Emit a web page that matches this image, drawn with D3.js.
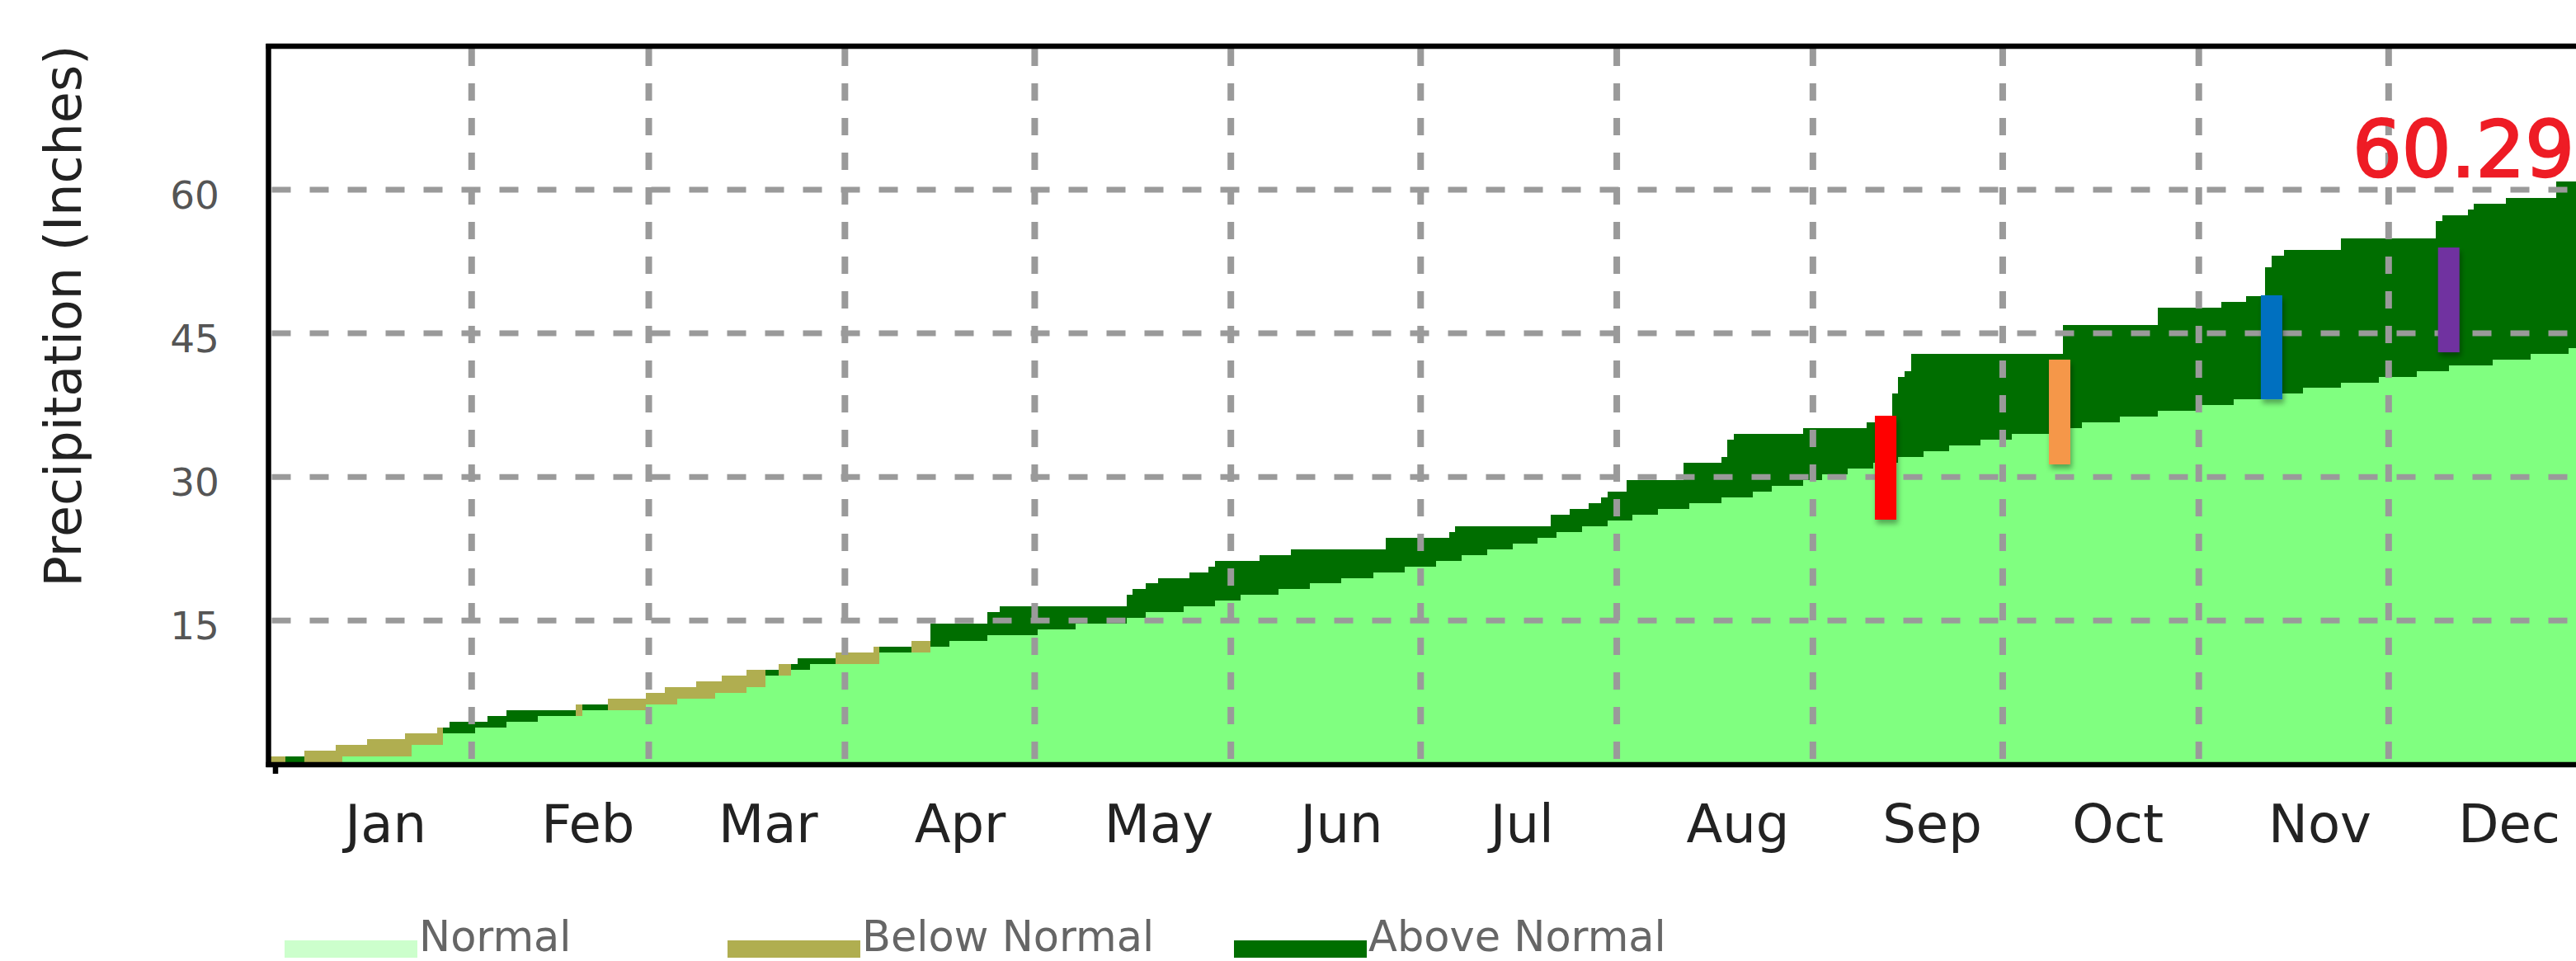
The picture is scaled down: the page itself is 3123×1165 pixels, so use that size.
<!DOCTYPE html>
<html>
<head>
<meta charset="utf-8">
<script src="https://cdn.jsdelivr.net/npm/d3@7/dist/d3.min.js"></script>
<style>
  html, body { margin: 0; padding: 0; background: #fff; }
  svg { display: block; }
  text { font-family: "DejaVu Sans", sans-serif; }
</style>
</head>
<body>
<svg id="chart"></svg>
<script>
"use strict";

/* ── Data ──────────────────────────────────────────────── */
const MONTHS      = ["Jan", "Feb", "Mar", "Apr", "May", "Jun", "Jul", "Aug", "Sep", "Oct", "Nov", "Dec"];
const MONTH_START = [0, 31, 59, 90, 120, 151, 181, 212, 243, 273, 304, 334];
const Y_TICKS     = [15, 30, 45, 60];

// day of year where each step starts, with cumulative inches at that step
const STEP_DAY = [
  1, 2, 5, 10, 11, 15, 21, 22, 26, 27, 28, 32, 34, 37, 42, 48, 49, 53, 59,
  62, 64, 67, 70, 71, 75, 78, 80, 82, 83, 85, 89, 95, 96, 101, 104, 107, 113, 115,
  121, 127, 135, 136, 138, 140, 144, 145, 148, 149, 153, 156, 159, 161, 164, 169, 174, 176, 179,
  184, 186, 187, 188, 192, 196, 200, 202, 203, 205, 207, 208, 210, 211, 214, 215, 219, 223, 224,
  229, 230, 231, 234, 237, 242, 245, 249, 252, 253, 256, 257, 258, 259, 261, 265, 270, 275,
  283, 284, 286, 292, 298, 304, 308, 310, 312, 315, 316, 317, 318, 321, 327, 333, 339,
  342, 343, 344, 347, 348, 351, 353, 357, 361, 363
];
const OBSERVED = [
  0, 0.82, 0, 0, 0.82, 0.82, 0.82, 2.02, 2.02, 3.83, 4.44, 4.44, 5.04, 5.64, 5.64, 5.04, 6.24, 5.64, 6.24,
  6.24, 6.85, 6.85, 7.45, 7.45, 8.05, 9.86, 9.26, 10.47, 11.07, 11.07, 10.47, 10.47, 12.27, 11.67, 14.69, 14.69, 15.89, 16.49,
  16.49, 16.49, 17.70, 18.30, 18.91, 19.42, 19.42, 20.03, 20.63, 21.23, 21.23, 21.83, 21.83, 22.44, 22.44, 22.44, 22.44, 23.64, 23.64,
  23.64, 24.25, 24.85, 24.85, 24.85, 24.85, 24.85, 26.06, 26.06, 26.66, 26.66, 27.26, 27.86, 28.47, 29.67, 29.67, 29.67, 31.48, 31.48,
  32.09, 33.89, 34.49, 34.49, 34.49, 35.10, 35.10, 35.10, 35.70, 35.70, 38.72, 40.44, 41.04, 42.85, 42.85, 42.85, 42.85, 42.85,
  45.87, 45.87, 45.87, 45.87, 47.68, 47.68, 48.28, 48.28, 48.89, 51.90, 53.10, 53.10, 53.70, 53.70, 54.91, 54.91, 54.91,
  56.72, 57.32, 57.32, 57.92, 58.53, 58.53, 59.13, 59.13, 60.85, 60.85
];
const NORMAL = [
  0.82, 0, 1.42, 2.02, 2.02, 2.63, 3.23, 3.23, 3.83, 3.23, 3.23, 3.83, 3.83, 4.44, 5.04, 6.24, 5.64, 6.85, 7.45,
  8.05, 8.05, 8.66, 8.66, 9.26, 9.86, 9.26, 10.47, 9.86, 9.86, 10.47, 11.67, 12.27, 11.67, 12.88, 12.27, 12.88, 13.48, 13.48,
  14.08, 14.69, 15.29, 15.29, 15.89, 15.89, 16.49, 16.49, 16.49, 17.10, 17.70, 17.70, 18.30, 18.30, 18.91, 19.42, 20.03, 20.03, 20.63,
  21.23, 21.23, 21.23, 21.83, 22.44, 23.04, 23.64, 23.64, 24.25, 24.25, 24.85, 24.85, 24.85, 25.45, 25.45, 26.06, 26.66, 26.66, 27.26,
  27.86, 27.86, 27.86, 28.47, 29.07, 29.67, 30.28, 30.88, 30.88, 31.48, 31.48, 32.09, 32.09, 32.09, 32.69, 33.29, 33.89, 34.49,
  34.49, 35.10, 35.70, 36.30, 36.91, 37.51, 37.51, 38.11, 38.11, 38.11, 38.11, 38.72, 38.72, 39.32, 39.83, 40.44, 41.04,
  41.04, 41.04, 41.64, 41.64, 41.64, 42.25, 42.25, 42.85, 42.85, 43.45
];

// event markers (day of year, low / high inches)
const EVENT_DAY  = [255, 282.5, 316, 344];
const EVENT_LOW  = [25.54, 31.31, 38.11, 43.02];
const EVENT_HIGH = [36.39, 42.25, 48.97, 53.96];

const YEAR_TOTAL = 60.29;
const LEGEND     = ["Normal", "Below Normal", "Above Normal"];

/* ── Styles ────────────────────────────────────────────── */
const C_NORMAL = "#80ff80";
const C_BELOW  = "#b0ae50";
const C_ABOVE  = "#006e00";
const C_SWATCH = ["#ccffcc", C_BELOW, C_ABOVE];
const C_EVENT  = ["#ff0000", "#f5974a", "#0070c0", "#7030a0"];
const C_GRID   = "#9a9a9a";

(function () {
  /* ── Layout ──────────────────────────────────────────── */
  const W = 3123, H = 1165;
  const PLOT = { left: 325.5, top: 56, bottom: 927 };

  const svg = d3.select("#chart").attr("width", W).attr("height", H);

  const x = d3.scaleLinear().domain([0, 365]).range([334, 3133.6]);
  const y = d3.scaleLinear().domain([0, 75]).range([926.5, 55.75]);

  const defs = svg.append("defs");
  defs.append("clipPath").attr("id", "plot-clip")
    .append("rect")
    .attr("x", PLOT.left).attr("y", PLOT.top)
    .attr("width", x(365) - PLOT.left).attr("height", PLOT.bottom - PLOT.top);

  const shadow = defs.append("filter").attr("id", "bar-shadow")
    .attr("x", "-50%").attr("y", "-20%").attr("width", "200%").attr("height", "140%");
  shadow.append("feDropShadow")
    .attr("dx", 2).attr("dy", 5).attr("stdDeviation", 3)
    .attr("flood-color", "#000").attr("flood-opacity", 0.35);

  /* ── Step points ─────────────────────────────────────── */
  const pts = STEP_DAY.map((d, i) => ({
    x: i === 0 ? PLOT.left : x(d - 0.5),
    obs: OBSERVED[i],
    nrm: NORMAL[i]
  }));
  const last = pts[pts.length - 1];
  pts.push({ x: x(365), obs: last.obs, nrm: last.nrm });

  const plotG = svg.append("g").attr("clip-path", "url(#plot-clip)");

  const lo = (d) => Math.min(d.obs, d.nrm);

  const areaNormal = d3.area().curve(d3.curveStepAfter)
    .x((d) => d.x).y0(y(0)).y1((d) => y(lo(d)));
  const areaBelow = d3.area().curve(d3.curveStepAfter)
    .x((d) => d.x)
    .y0((d) => y(lo(d)))
    .y1((d) => (d.obs < d.nrm ? y(d.nrm) : y(lo(d))));
  const areaAbove = d3.area().curve(d3.curveStepAfter)
    .x((d) => d.x)
    .y0((d) => y(lo(d)))
    .y1((d) => (d.obs > d.nrm ? y(d.obs) : y(lo(d))));

  plotG.append("path").datum(pts).attr("d", areaNormal)
    .attr("fill", C_NORMAL).attr("shape-rendering", "crispEdges");
  plotG.append("path").datum(pts).attr("d", areaBelow)
    .attr("fill", C_BELOW).attr("shape-rendering", "crispEdges");
  plotG.append("path").datum(pts).attr("d", areaAbove)
    .attr("fill", C_ABOVE).attr("shape-rendering", "crispEdges");

  /* ── Gridlines ───────────────────────────────────────── */
  svg.append("g").selectAll("line")
    .data(Y_TICKS)
    .join("line")
    .attr("x1", PLOT.left + 4).attr("x2", W)
    .attr("y1", (d) => y(d)).attr("y2", (d) => y(d))
    .attr("stroke", C_GRID).attr("stroke-width", 7)
    .attr("stroke-dasharray", "23 23");

  svg.append("g").selectAll("line")
    .data(MONTH_START.slice(1))
    .join("line")
    .attr("x1", (d) => x(d)).attr("x2", (d) => x(d))
    .attr("y1", PLOT.top + 3).attr("y2", PLOT.bottom + 13)
    .attr("stroke", C_GRID).attr("stroke-width", 8)
    .attr("stroke-dasharray", "21 21");

  /* ── Frame ───────────────────────────────────────────── */
  const frame = svg.append("g").attr("stroke", "#000").attr("stroke-width", 6.5);
  frame.append("line").attr("x1", PLOT.left - 3).attr("x2", x(365))
    .attr("y1", PLOT.top).attr("y2", PLOT.top);
  frame.append("line").attr("x1", PLOT.left - 3).attr("x2", x(365))
    .attr("y1", PLOT.bottom).attr("y2", PLOT.bottom);
  frame.append("line").attr("x1", PLOT.left).attr("x2", PLOT.left)
    .attr("y1", PLOT.top - 3).attr("y2", PLOT.bottom + 3);
  frame.append("line").attr("x1", x(0)).attr("x2", x(0))
    .attr("y1", PLOT.bottom).attr("y2", PLOT.bottom + 11);

  /* ── Event bars ──────────────────────────────────────── */
  svg.append("g").selectAll("rect")
    .data(EVENT_DAY)
    .join("rect")
    .attr("x", (d) => x(d - 0.5) - 13)
    .attr("width", 26)
    .attr("y", (d, i) => y(EVENT_HIGH[i]))
    .attr("height", (d, i) => y(EVENT_LOW[i]) - y(EVENT_HIGH[i]))
    .attr("fill", (d, i) => C_EVENT[i])
    .attr("filter", "url(#bar-shadow)");

  /* ── Total label ─────────────────────────────────────── */
  svg.append("text")
    .attr("x", 2852).attr("y", y(YEAR_TOTAL) - 13)
    .attr("font-size", 94)
    .attr("fill", "#ee1c25")
    .attr("stroke", "#ee1c25").attr("stroke-width", 2.5)
    .text(YEAR_TOTAL.toFixed(2));

  /* ── Axes text ───────────────────────────────────────── */
  svg.append("g").selectAll("text")
    .data(Y_TICKS)
    .join("text")
    .attr("x", 266).attr("y", (d) => y(d) + 23)
    .attr("text-anchor", "end")
    .attr("font-size", 47)
    .attr("fill", "#555")
    .text((d) => d);

  svg.append("g").selectAll("text")
    .data(MONTHS)
    .join("text")
    .attr("x", (d, i) => x(MONTH_START[i] + 11))
    .attr("y", 1021)
    .attr("font-size", 64)
    .attr("fill", "#222")
    .text((d) => d);

  svg.append("text")
    .attr("transform", "translate(98,383) rotate(-90)")
    .attr("text-anchor", "middle")
    .attr("font-size", 62)
    .attr("fill", "#222")
    .text("Precipitation (Inches)");

  /* ── Legend ──────────────────────────────────────────── */
  const LEG_X = [345, 882, 1496];
  const leg = svg.append("g").selectAll("g")
    .data(LEGEND)
    .join("g")
    .attr("transform", (d, i) => `translate(${LEG_X[i]},1140)`);
  leg.append("rect")
    .attr("width", 161).attr("height", 21)
    .attr("fill", (d, i) => C_SWATCH[i]);
  leg.append("text")
    .attr("x", 163).attr("y", 13)
    .attr("font-size", 51)
    .attr("fill", "#666")
    .text((d) => d);
})();
</script>
</body>
</html>
